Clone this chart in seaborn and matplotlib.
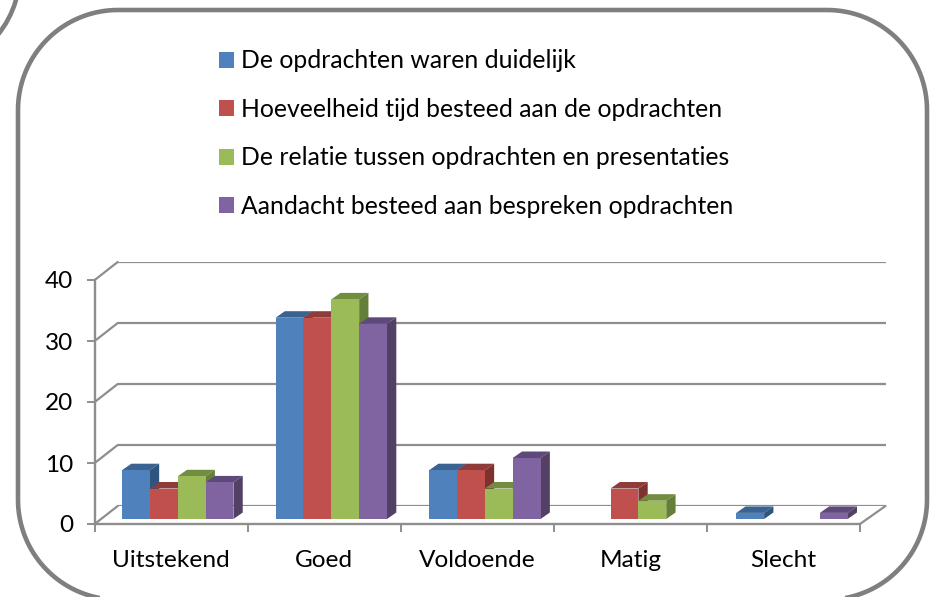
import matplotlib
matplotlib.use("Agg")
import matplotlib.pyplot as plt
import seaborn as sns
import pandas as pd
import numpy as np
from matplotlib.patches import Circle, Polygon
from matplotlib.lines import Line2D
from matplotlib.transforms import Affine2D, IdentityTransform

categories = ["Uitstekend", "Goed", "Voldoende", "Matig", "Slecht"]
series_names = ["De opdrachten waren duidelijk",
                "Hoeveelheid tijd besteed aan de opdrachten",
                "De relatie tussen opdrachten en presentaties",
                "Aandacht besteed aan bespreken opdrachten"]
duidelijk = [8, 33, 8, 0, 1]
tijd = [5, 33, 8, 5, 0]
relatie = [7, 36, 5, 3, 0]
aandacht = [6, 32, 10, 0, 1]
colors = ["#4F81BD", "#C0504D", "#9BBB59", "#8064A2"]
top_colors = ["#3A6391", "#8F3B39", "#728C40", "#5E4A7A"]
side_colors = ["#2F5480", "#7E3230", "#667F38", "#534065"]
yticks = [0, 10, 20, 30, 40]

W, H, DPI = 934, 597, 100
GRID = "#8E8E8E"
FS = 17.6

sns.set_theme(style="white")
plt.rcParams["font.family"] = ["Lato", "DejaVu Sans"]
plt.rcParams["text.color"] = "#000000"
plt.rcParams["xtick.labelcolor"] = "#000000"
plt.rcParams["ytick.labelcolor"] = "#000000"

rows = []
for name, vals in zip(series_names, [duidelijk, tijd, relatie, aandacht]):
    for c, v in zip(categories, vals):
        rows.append({"cat": c, "serie": name, "val": v})
df = pd.DataFrame(rows)

fig = plt.figure(figsize=(W / DPI, H / DPI), dpi=DPI, facecolor="white")

# plot frame, pixel geometry of the front plane
L, R, B, T = 94.7, 860.0, 524.0, 280.0
DX, DY = 23.0, 18.0          # depth of the walls
ax = fig.add_axes([L / W, 1 - B / H, (R - L) / W, (B - T) / H], facecolor="none")
back = fig.add_axes([(L + DX) / W, 1 - (B - DY) / H, (R - L + 2.5) / W, (B - T) / H], facecolor="none")

# back wall grid
back.set_xlim(0, 1); back.set_ylim(0, 40)
back.set_yticks(yticks); back.set_xticks([])
back.yaxis.grid(True, color=GRID, lw=1.6)
back.tick_params(left=False, labelleft=False)
sns.despine(ax=back, left=True, bottom=True)
back.set_zorder(0); ax.set_zorder(1)

# bars
sns.barplot(data=df, x="cat", y="val", hue="serie", order=categories, hue_order=series_names,
            palette=colors, width=0.728, gap=0, saturation=1, ax=ax, zorder=5,
            edgecolor="none", linewidth=0)
ax.set_xlim(-0.5, 4.5); ax.set_ylim(0, 40)
ax.set_xlabel(""); ax.set_ylabel("")

# bars stand in the middle of the floor: move them back and add 3D faces
BDX, BDY = 9.3, 6.5
n = len(categories)
patches = list(ax.patches)[:4 * n]
for s in range(4):
    for i in range(n):
        p = patches[s * n + i]
        if p.get_height() <= 0:
            p.set_visible(False)
            continue
        shift = Affine2D().translate(6.5 + 0.5 * i, 5.0)
        p.set_transform(ax.transData + shift)
        p.set_clip_on(False)
        z = 5 + i * 10 + s * 2
        p.set_zorder(z + 1)
        x0, x1 = p.get_x(), p.get_x() + p.get_width()
        h = p.get_height()
        (ax0, ay0), (ax1, ay1) = (ax.transData + shift).transform([(x0, 0), (x1, h)])
        top = Polygon([(ax0, ay1), (ax1, ay1), (ax1 + BDX, ay1 + BDY), (ax0 + BDX, ay1 + BDY)],
                      closed=True, transform=IdentityTransform(), fc=top_colors[s], ec="none",
                      zorder=z, clip_on=False)
        side = Polygon([(ax1, ay0), (ax1 + BDX, ay0 + BDY), (ax1 + BDX, ay1 + BDY), (ax1, ay1)],
                       closed=True, transform=IdentityTransform(), fc=side_colors[s], ec="none",
                       zorder=z, clip_on=False)
        ax.add_patch(top); ax.add_patch(side)

# axes of the front plane
for sp in ["top", "right"]:
    ax.spines[sp].set_visible(False)
for sp in ["left", "bottom"]:
    ax.spines[sp].set_color(GRID); ax.spines[sp].set_linewidth(1.7)
ax.set_yticks(yticks)
ax.set_xticks(range(n))
ax.set_xticklabels(categories, fontsize=FS)
ax.set_xticks(np.arange(-0.5, 5.0, 1), minor=True)
ax.tick_params(axis="x", which="major", length=0, pad=19)
ax.tick_params(axis="x", which="minor", length=5.6, width=1.4, color=GRID, bottom=True)
ax.tick_params(axis="y", length=5.6, width=1.4, color=GRID, left=True, pad=10, labelsize=FS)

# connectors from the front plane to the back wall
for v in yticks:
    (px, py) = ax.transData.transform((-0.5, v))
    ax.add_line(Line2D([px, px + DX], [py, py + DY], transform=IdentityTransform(),
                       color=GRID, lw=1.6, clip_on=False, zorder=1))
(px, py) = ax.transData.transform((4.5, 0))
ax.add_line(Line2D([px, px + DX + 2.5], [py, py + DY], transform=IdentityTransform(),
                   color=GRID, lw=1.6, clip_on=False, zorder=1))

# legend
sns.move_legend(ax, "upper left", bbox_to_anchor=(218.5 / W, 1 - 49.5 / H),
                bbox_transform=fig.transFigure, frameon=False, title=None, fontsize=17.8,
                handlelength=0.62, handleheight=0.62, handletextpad=0.3, labelspacing=1.03,
                borderpad=0, borderaxespad=0)

# rounded frames, in pixels from the top-left corner
fx0, fx1, fy0, fy1, rad = 18.0, 927.0, 10.0, 599.7, 100.0
t = np.linspace(0, np.pi / 2, 40)
outline = np.vstack([
    np.c_[fx1 - rad + rad * np.cos(t), fy0 + rad - rad * np.sin(t)],
    np.c_[fx0 + rad - rad * np.sin(t), fy0 + rad - rad * np.cos(t)],
    np.c_[fx0 + rad - rad * np.cos(t), fy1 - rad + rad * np.sin(t)],
    np.c_[fx1 - rad + rad * np.sin(t), fy1 - rad + rad * np.cos(t)],
])
outline[:, 1] = H - outline[:, 1]
fig.add_artist(Polygon(outline, closed=True, transform=IdentityTransform(), fc="none",
                       ec="#7F7F7F", lw=3.3, zorder=20))
fig.add_artist(Circle((-80, H + 28), 100, transform=IdentityTransform(), fc="none", ec="#7F7F7F",
                      lw=3.3, zorder=20))

fig.savefig("out.png", dpi=DPI, facecolor="white")
